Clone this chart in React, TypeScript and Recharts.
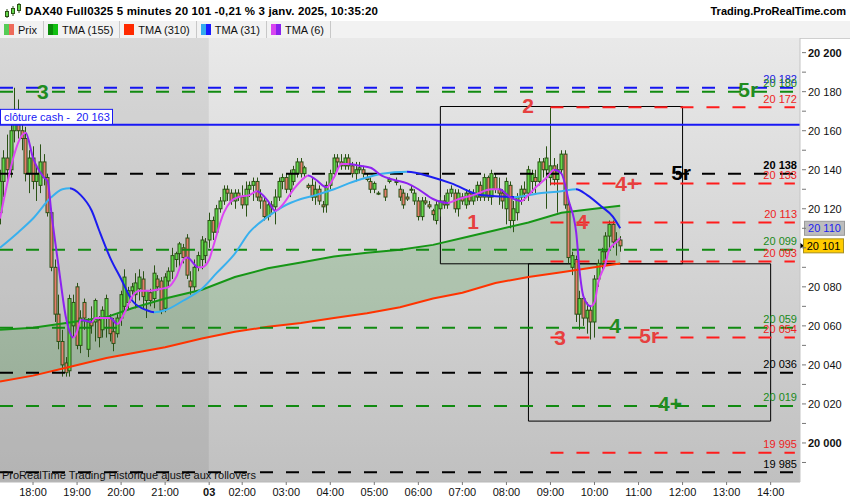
import React from 'react';
import { ComposedChart, Bar, Line, Area, XAxis, YAxis, ReferenceLine, ReferenceArea, ReferenceDot } from 'recharts';

// one slot = one 5 minute bar. slot 0 = 17:15 (2 janv.), slot 57 = 01:15 (3 janv.), slot 169 = 10:35
const SESSION_BREAK = 56.9;

// [open, high, low, close]
const ohlc: ([number, number, number, number] | null)[] = [
  // 0-9
  [20118, 20140, 20112, 20134], [20134, 20150, 20126, 20146], [20146, 20158, 20134, 20140], [20140, 20164, 20136, 20160], [20160, 20182, 20154, 20168],
  [20168, 20176, 20156, 20160], [20160, 20166, 20150, 20156], [20156, 20162, 20134, 20138], [20138, 20150, 20128, 20146], [20146, 20152, 20130, 20134],
  // 10-19
  [20134, 20142, 20124, 20138], [20132, 20153, 20128, 20144], [20144, 20148, 20132, 20136], [20136, 20138, 20116, 20118], [20118, 20120, 20088, 20090],
  [20090, 20094, 20062, 20066], [20066, 20076, 20048, 20052], [20052, 20058, 20034, 20040], [20041, 20044, 20034, 20036], [20037, 20076, 20034, 20074],
  // 20-29
  [20060, 20076, 20054, 20072], [20080, 20082, 20048, 20050], [20050, 20068, 20046, 20064], [20072, 20074, 20058, 20064], [20048, 20064, 20044, 20062],
  [20062, 20070, 20056, 20060], [20062, 20074, 20052, 20073], [20063, 20065, 20049, 20054], [20058, 20070, 20054, 20068], [20064, 20076, 20054, 20074],
  // 30-39
  [20064, 20066, 20052, 20056], [20057, 20064, 20047, 20051], [20056, 20066, 20054, 20064], [20064, 20078, 20060, 20076], [20070, 20089, 20066, 20085],
  [20072, 20080, 20068, 20078], [20078, 20082, 20074, 20080], [20076, 20087, 20069, 20082], [20079, 20089, 20073, 20085], [20084, 20088, 20069, 20075],
  // 40-49
  [20073, 20078, 20064, 20078], [20077, 20079, 20070, 20073], [20074, 20091, 20069, 20087], [20084, 20086, 20078, 20080], [20083, 20085, 20066, 20068],
  [20069, 20087, 20067, 20085], [20083, 20090, 20080, 20088], [20088, 20100, 20084, 20096], [20094, 20098, 20090, 20097], [20097, 20103, 20090, 20102],
  // 50-59
  [20100, 20102, 20092, 20095], [20105, 20107, 20084, 20086], [20083, 20088, 20076, 20080], [20080, 20094, 20078, 20090], [20090, 20098, 20088, 20096],
  [20094, 20106, 20089, 20104], [20096, 20105, 20092, 20103], [20104, 20118, 20100, 20114], [20114, 20116, 20104, 20108], [20108, 20122, 20106, 20120],
  // 60-69
  [20120, 20126, 20118, 20124], [20124, 20132, 20122, 20130], [20130, 20132, 20124, 20128], [20128, 20130, 20122, 20124], [20124, 20130, 20120, 20128],
  [20128, 20130, 20124, 20126], [20126, 20132, 20120, 20122], [20122, 20134, 20116, 20130], [20130, 20134, 20126, 20132], [20132, 20136, 20124, 20134],
  // 70-79
  [20134, 20136, 20124, 20126], [20126, 20130, 20120, 20124], [20124, 20126, 20114, 20116], [20116, 20124, 20114, 20122], [20122, 20124, 20118, 20121],
  [20121, 20130, 20112, 20126], [20126, 20136, 20124, 20134], [20134, 20138, 20130, 20136], [20136, 20138, 20128, 20130], [20130, 20140, 20126, 20138],
  // 80-89
  [20134, 20142, 20132, 20140], [20138, 20146, 20136, 20144], [20144, 20146, 20136, 20138], [20138, 20142, 20136, 20141], [20132, 20133, 20130, 20131],
  [20132, 20136, 20124, 20126], [20126, 20134, 20122, 20130], [20130, 20132, 20122, 20124], [20122, 20124, 20118, 20121], [20122, 20134, 20118, 20132],
  // 90-99
  [20132, 20140, 20130, 20138], [20138, 20148, 20136, 20146], [20146, 20148, 20140, 20144], [20144, 20148, 20140, 20142], [20142, 20148, 20140, 20146],
  [20146, 20148, 20140, 20142], [20142, 20144, 20136, 20138], [20138, 20144, 20134, 20140], [20140, 20144, 20138, 20141], [20140, 20142, 20136, 20138],
  // 100-109
  [20136, 20138, 20134, 20135], [20134, 20136, 20128, 20130], [20130, 20134, 20128, 20133], [20128, 20129, 20127, 20128], null,
  [20130, 20132, 20124, 20126], [20134, 20136, 20133, 20135], null, [20134, 20136, 20132, 20134], [20130, 20132, 20124, 20126],
  // 110-119
  [20128, 20130, 20120, 20122], [20126, 20128, 20124, 20125], [20130, 20132, 20128, 20130], [20124, 20130, 20122, 20128], [20124, 20126, 20114, 20116],
  [20116, 20126, 20114, 20124], [20124, 20126, 20122, 20123], [20122, 20124, 20120, 20121], [20119, 20120, 20114, 20117], [20114, 20124, 20112, 20122],
  // 120-129
  [20120, 20126, 20116, 20124], [20124, 20127, 20120, 20122], [20122, 20130, 20120, 20128], [20128, 20132, 20126, 20130], [20128, 20130, 20118, 20120],
  [20120, 20130, 20116, 20128], [20126, 20128, 20122, 20124], [20122, 20130, 20120, 20128], [20128, 20130, 20122, 20124], [20124, 20130, 20122, 20128],
  // 130-139
  [20126, 20134, 20124, 20132], [20132, 20134, 20124, 20126], [20126, 20138, 20124, 20136], [20136, 20137, 20124, 20126], [20126, 20140, 20122, 20138],
  [20136, 20138, 20128, 20130], [20130, 20136, 20122, 20128], [20128, 20130, 20120, 20124], [20120, 20136, 20112, 20134], [20132, 20134, 20110, 20114],
  // 140-149
  [20114, 20124, 20108, 20120], [20118, 20128, 20114, 20126], [20126, 20132, 20122, 20130], [20130, 20134, 20124, 20128], [20128, 20142, 20124, 20140],
  [20134, 20140, 20128, 20138], [20136, 20140, 20128, 20134], [20134, 20146, 20132, 20144], [20144, 20146, 20136, 20140], [20140, 20152, 20120, 20146],
  // 150-159
  [20136, 20172, 20132, 20142], [20142, 20146, 20132, 20135], [20135, 20143, 20118, 20140], [20140, 20150, 20138, 20148], [20148, 20150, 20120, 20122],
  [20122, 20124, 20092, 20095], [20090, 20098, 20086, 20096], [20094, 20096, 20062, 20066], [20066, 20078, 20058, 20074], [20074, 20076, 20060, 20064],
  // 160-169
  [20064, 20072, 20056, 20068], [20068, 20070, 20053, 20062], [20062, 20086, 20054, 20084], [20084, 20094, 20080, 20092], [20092, 20100, 20088, 20098],
  [20098, 20108, 20094, 20106], [20106, 20114, 20100, 20112], [20112, 20114, 20100, 20103], [20103, 20108, 20096, 20104], [20104, 20106, 20098, 20101],
];

// moving averages read at a few slots: [slot, value]
const tma6: [number, number][] = [
  [0, 20115], [7, 20159], [9, 20146], [12, 20136], [13, 20134], [14, 20118], [16, 20090], [18, 20064], [20, 20054], [21, 20057],
  [22, 20063], [25, 20062], [26, 20064], [30, 20064], [32, 20061], [34, 20067], [36, 20075], [38, 20078], [41, 20078], [44, 20079],
  [46, 20080], [48, 20085], [50, 20094], [51, 20095], [54, 20090], [55, 20090], [57, 20094], [58, 20100], [61, 20118], [63, 20124],
  [65, 20126], [68, 20127], [70, 20129], [73, 20124], [75, 20119], [77, 20122], [80, 20130], [83, 20136], [84, 20137], [86, 20135],
  [89, 20131], [91, 20136], [93, 20143], [95, 20143], [98, 20142], [101, 20141], [104, 20137], [107, 20135], [111, 20133], [114, 20130],
  [118, 20125], [122, 20123], [125, 20125], [129, 20127], [134, 20130], [136, 20130], [139, 20126], [142, 20124], [144, 20127], [146, 20131],
  [149, 20136], [151, 20140], [153, 20138], [155, 20124], [157, 20108], [158, 20087], [159, 20075], [161, 20070], [162, 20072], [163, 20082],
  [165, 20092], [166, 20099], [168, 20103], [169, 20105],
];

const tma31: [number, number][] = [
  [0, 20100], [5, 20108], [9, 20115], [14, 20126], [17, 20130], [19, 20130.5], [22, 20127], [25, 20119], [27, 20109], [30, 20095],
  [33, 20084], [36, 20073], [40, 20068], [42, 20067], [45, 20068], [50, 20073], [55, 20079], [59, 20087], [64, 20097], [68, 20108],
  [73, 20116], [77, 20121], [82, 20125], [86, 20127], [91, 20130], [95, 20133], [100, 20136], [104, 20138], [111, 20139], [118, 20136],
  [123, 20133], [131, 20127], [140, 20126], [147, 20128], [153, 20129], [157, 20130], [160, 20127], [164, 20121], [167, 20116], [169, 20110],
];

const maSlots = [0, 9, 18, 29, 36, 45, 55, 64, 73, 82, 91, 100, 109, 118, 126, 135, 144, 153, 162, 169];
const tma155 = [20058, 20059, 20061.5, 20064.5, 20069, 20074, 20078.5, 20085, 20089.5, 20092.5, 20095.5, 20097.5, 20099, 20101.5, 20105, 20109, 20113, 20118, 20120, 20121.5];
const tma310 = [20031.5, 20034.5, 20038.5, 20043.5, 20046, 20049, 20053.5, 20057, 20059.5, 20061.5, 20064, 20066.5, 20069.5, 20074, 20077, 20082, 20085, 20087.5, 20090, 20092];

// horizontal levels
const levelValues = [20182, 20180, 20172, 20138, 20133, 20113, 20099, 20093, 20059, 20054, 20036, 20019, 19995, 19985];
const levelKinds = ['blue', 'green', 'red', 'black', 'red', 'red', 'green', 'red', 'green', 'red', 'black', 'green', 'red', 'black'];
const levelFrom = [0, 0, 150, 0, 150, 150, 0, 150, 0, 150, 0, 0, 150, 0];
const LEVEL_END = 216.6;
const cashClose = 20163;

// boxes: [slotFrom, slotTo, low, high]
const boxes: [number, number, number, number][] = [
  [120, 186, 20091.8, 20172.4],
  [144, 210, 20011.2, 20091.8],
];

// wave marks
const markTexts = ['3', '2', '1', '4+', '5r', '4', '3', '4', '5r', '4+', '5r'];
const markSlots = [11.7, 143.9, 128.9, 170.9, 185.6, 158.6, 152.6, 167.6, 176.9, 182.6, 203.9];
const markValues = [20180, 20172.8, 20113, 20132.5, 20138.4, 20113, 20054, 20059.8, 20054.8, 20020, 20181];
const markKinds = ['green', 'red', 'red', 'red', 'black', 'red', 'red', 'green', 'red', 'green', 'green'];

const lastPrice = 20101;
const lastTma31 = 20110;

const yTicks = [19990, 20000, 20010, 20020, 20030, 20040, 20050, 20060, 20070, 20080, 20090, 20100, 20110, 20120, 20130, 20140, 20150, 20160, 20170, 20180, 20190, 20200];
// the 20 100 label sits under the price tag
const yHiddenLabels = [20100];
const xTickSlots = [9, 21, 33, 45, 57, 66, 78, 90, 102, 114, 126, 138, 150, 162, 174, 186, 198, 210];
const xTickLabels = ['18:00', '19:00', '20:00', '21:00', '03', '02:00', '03:00', '04:00', '05:00', '06:00', '07:00', '08:00', '09:00', '10:00', '11:00', '12:00', '13:00', '14:00'];

const FONT = '"Liberation Sans", Arial, sans-serif';
const KIND_LINE: Record<string, string> = { blue: '#1414f0', green: '#118a11', red: '#ff1c1c', black: '#000000' };
const KIND_TEXT: Record<string, string> = { blue: '#2020e0', green: '#1a8a1a', red: '#ee2222', black: '#000000' };
const MARK_COLOR: Record<string, string> = { green: '#1f8c1f', red: '#e6403f', black: '#000000' };

const candleRows = ohlc.map((c, slot) =>
  c ? { slot, o: c[0], h: c[1], l: c[2], c: c[3], range: [c[2], c[1]] } : { slot }
);
const tma6Rows = tma6.map(([slot, v]) => ({ slot, v }));
const tma31Rows = tma31.map(([slot, v]) => ({ slot, v }));
const maRows = maSlots.map((slot, i) => ({ slot, a: tma155[i], b: tma310[i], band: [tma310[i], tma155[i]] }));

const fmt = (v: number) => `${Math.floor(v / 1000)} ${String(v % 1000).padStart(3, '0')}`;

const Candle = (props: any) => {
  const { x, y, width, height, payload } = props;
  if (!payload || payload.o == null) return null;
  const { o, h, l, c } = payload;
  const top = Math.min(y, y + height);
  const span = Math.abs(height);
  const k = span / (h - l);
  const py = (v: number) => top + (h - v) * k;
  const cx = Math.round(x + width / 2) + 0.5;
  const bt = py(Math.max(o, c));
  const bb = py(Math.min(o, c));
  return (
    <g>
      <line x1={cx} x2={cx} y1={top} y2={top + span} stroke="#2b5216" strokeWidth={1} />
      <rect x={cx - 1.5} y={bt} width={3} height={Math.max(bb - bt, 1)} fill={c >= o ? '#62d84a' : '#e67c6c'} stroke="#2b5216" strokeWidth={1} />
    </g>
  );
};

function slopeGradient(id: string, pts: [number, number][], up: string, down: string) {
  const a = pts[0][0];
  const b = pts[pts.length - 1][0];
  const stops: React.ReactNode[] = [];
  for (let i = 0; i < pts.length - 1; i++) {
    const col = pts[i + 1][1] >= pts[i][1] ? up : down;
    stops.push(<stop key={i + 'a'} offset={(pts[i][0] - a) / (b - a)} stopColor={col} />);
    stops.push(<stop key={i + 'b'} offset={(pts[i + 1][0] - a) / (b - a)} stopColor={col} />);
  }
  return (
    <linearGradient id={id} x1="0" y1="0" x2="1" y2="0">
      {stops}
    </linearGradient>
  );
}

const YTick = (props: any) => {
  const { y, payload } = props;
  const v = payload.value;
  const major = v % 20 === 0 && !yHiddenLabels.includes(v);
  return (
    <g>
      <line x1={802} x2={806} y1={y} y2={y} stroke="#777" />
      {major && (
        <text x={808} y={y + 4} fontSize={11} fontFamily={FONT} fontWeight={v % 100 === 0 ? 'bold' : 'normal'} fill="#111">
          {fmt(v)}
        </text>
      )}
    </g>
  );
};

const XTick = (props: any) => {
  const { x, payload } = props;
  const i = xTickSlots.indexOf(payload.value);
  const label = xTickLabels[i];
  return (
    <g>
      <line x1={x} x2={x} y1={444} y2={447} stroke="#777" />
      <text x={x} y={458} textAnchor="middle" fontSize={11} fontFamily={FONT} fontWeight={label === '03' ? 'bold' : 'normal'} fill="#111">
        {label}
      </text>
    </g>
  );
};

const legendItems = [
  { name: 'Prix', c1: '#55cc55', c2: '#ee6a5a' },
  { name: 'TMA (155)', c1: '#0a8a0a', c2: '#11c011' },
  { name: 'TMA (310)', c1: '#ff2a00', c2: '#ff2a00' },
  { name: 'TMA (31)', c1: '#33aaee', c2: '#1a1aff' },
  { name: 'TMA (6)', c1: '#d845f0', c2: '#8a22ee' },
];

export default function App() {
  return (
    <div style={{ position: 'relative', width: 850, height: 500, background: '#fff', fontFamily: FONT, overflow: 'hidden' }}>
      <style>{'body{margin:0}'}</style>
      {/* title bar */}
      <div style={{ position: 'absolute', left: 0, top: 0, width: 850, height: 21, display: 'flex', alignItems: 'center', fontSize: 11.5, fontWeight: 'bold', color: '#000' }}>
        <svg width={20} height={18} style={{ marginLeft: 3 }}>
          <line x1={4} x2={4} y1={7} y2={16} stroke="#2b5216" />
          <rect x={2.5} y={9.5} width={3} height={5} fill="#62d84a" stroke="#2b5216" />
          <line x1={10} x2={10} y1={4} y2={14} stroke="#2b5216" />
          <rect x={8.5} y={6.5} width={3} height={5} fill="#62d84a" stroke="#2b5216" />
          <line x1={16} x2={16} y1={1} y2={11} stroke="#2b5216" />
          <rect x={14.5} y={2.5} width={3} height={6} fill="#62d84a" stroke="#2b5216" />
        </svg>
        <span style={{ marginLeft: 2, letterSpacing: 0.15 }}>DAX40 Full0325 5 minutes 20 101 -0,21 % 3 janv. 2025, 10:35:20</span>
        <span style={{ position: 'absolute', right: 4, fontSize: 11 }}>Trading.ProRealTime.com</span>
      </div>
      {/* legend row */}
      <div style={{ position: 'absolute', left: 0, top: 21, width: 850, height: 17, display: 'flex', background: '#f2f2f2', borderBottom: '1px solid #cfcfcf', fontSize: 11, color: '#111' }}>
        {legendItems.map((it) => (
          <div key={it.name} style={{ display: 'flex', alignItems: 'center', padding: '0 6px 0 4px', borderRight: '1px solid #c8c8c8', height: 17 }}>
            <span style={{ display: 'inline-block', width: 5, height: 11, background: it.c1 }} />
            <span style={{ display: 'inline-block', width: 5, height: 11, background: it.c2, marginRight: 4 }} />
            {it.name}
          </div>
        ))}
      </div>
      {/* plot background */}
      <div style={{ position: 'absolute', left: 0, top: 38, width: 800, height: 444, background: 'linear-gradient(#e9e9e9, #c0c0c0)' }} />
      <div style={{ position: 'absolute', left: 0, top: 38 }}>
        <ComposedChart width={850} height={462} data={candleRows} margin={{ top: 0, right: 0, bottom: 0, left: 0 }}>
          <defs>
            {slopeGradient('g6', tma6, '#dc46f2', '#8d22f0')}
            {slopeGradient('g31', tma31, '#38b0ee', '#1c1cf0')}
          </defs>
          <XAxis type="number" dataKey="slot" domain={[0, 218]} ticks={xTickSlots} tick={<XTick />} interval={0} height={18} axisLine={{ stroke: '#b8b8b8' }} tickLine={false} allowDataOverflow padding={{ left: 0, right: 0 }} />
          <YAxis orientation="right" domain={[19980, 20207.5]} ticks={yTicks} tick={<YTick />} interval={0} width={50} axisLine={{ stroke: '#c4c4c4' }} tickLine={false} allowDataOverflow />
          <ReferenceArea x1={0} x2={SESSION_BREAK} y1={19980} y2={20207.5} fill="#000" fillOpacity={0.065} stroke="none" />
          <Area data={maRows} dataKey="band" type="linear" fill="#2e8b2e" fillOpacity={0.22} stroke="none" isAnimationActive={false} />
          <Line data={maRows} dataKey="b" type="linear" stroke="#ff3300" strokeWidth={2} dot={false} isAnimationActive={false} />
          <Line data={maRows} dataKey="a" type="linear" stroke="#169616" strokeWidth={2} dot={false} isAnimationActive={false} />
          {levelValues.map((v, i) => (
            <ReferenceLine
              key={'lv' + i}
              segment={[{ x: levelFrom[i], y: v }, { x: LEVEL_END, y: v }]}
              stroke={KIND_LINE[levelKinds[i]]}
              strokeWidth={2}
              strokeDasharray="13 13"
              label={(p: any) => (
                <text x={797} y={p.viewBox.y - 4.5} textAnchor="end" fontSize={11} fontFamily={FONT} fontWeight={v === 20138 ? 'bold' : 'normal'} fill={KIND_TEXT[levelKinds[i]]}>
                  {fmt(v)}
                </text>
              )}
            />
          ))}
          <ReferenceLine
            y={cashClose}
            stroke="#1818f5"
            strokeWidth={2}
            label={(p: any) => (
              <g>
                <rect x={0.5} y={p.viewBox.y - 15.5} width={112} height={15} fill="#fff" stroke="#1818f5" />
                <text x={4} y={p.viewBox.y - 4} fontSize={11} fontFamily={FONT} fill="#1818f5">
                  {'clôture cash -\u00a0\u00a0' + fmt(cashClose)}
                </text>
              </g>
            )}
          />
          {boxes.map((b, i) => (
            <ReferenceArea key={'bx' + i} x1={b[0]} x2={b[1]} y1={b[2]} y2={b[3]} fill="none" stroke="#000" strokeWidth={1} />
          ))}
          <Bar dataKey="range" barSize={3} shape={Candle} isAnimationActive={false} />
          <Line data={tma31Rows} dataKey="v" type="monotone" stroke="url(#g31)" strokeWidth={2} dot={false} isAnimationActive={false} />
          <Line data={tma6Rows} dataKey="v" type="monotone" stroke="url(#g6)" strokeWidth={2} dot={false} isAnimationActive={false} />
          {markTexts.map((t, i) => (
            <ReferenceDot
              key={'mk' + i}
              x={markSlots[i]}
              y={markValues[i]}
              r={0}
              shape={(p: any) => (
                <text x={p.cx} y={p.cy + 7} textAnchor="middle" fontSize={21} fontWeight="bold" fontFamily={FONT} fill={MARK_COLOR[markKinds[i]]}>
                  {t}
                </text>
              )}
            />
          ))}
          <ReferenceLine
            y={lastTma31}
            stroke="none"
            label={(p: any) => (
              <g>
                <rect x={804.5} y={p.viewBox.y - 7} width={40} height={14} fill="#bdbdbd" stroke="#9a9a9a" />
                <text x={824.5} y={p.viewBox.y + 4} textAnchor="middle" fontSize={11} fontFamily={FONT} fill="#1c1cf0">
                  {fmt(lastTma31)}
                </text>
              </g>
            )}
          />
          <ReferenceLine
            y={lastPrice}
            stroke="none"
            label={(p: any) => (
              <g>
                <polygon points={`800,${p.viewBox.y - 3} 804,${p.viewBox.y} 800,${p.viewBox.y + 3}`} fill="#000" />
                <rect x={803.5} y={p.viewBox.y - 7} width={40} height={14} fill="#ffcc00" stroke="#a89020" />
                <text x={823.5} y={p.viewBox.y + 4} textAnchor="middle" fontSize={11} fontFamily={FONT} fill="#000">
                  {fmt(lastPrice)}
                </text>
              </g>
            )}
          />
        </ComposedChart>
      </div>
      <div style={{ position: 'absolute', left: 2, top: 469, fontSize: 11, color: '#111' }}>ProRealTime Trading Historique ajusté aux rollovers</div>
    </div>
  );
}
